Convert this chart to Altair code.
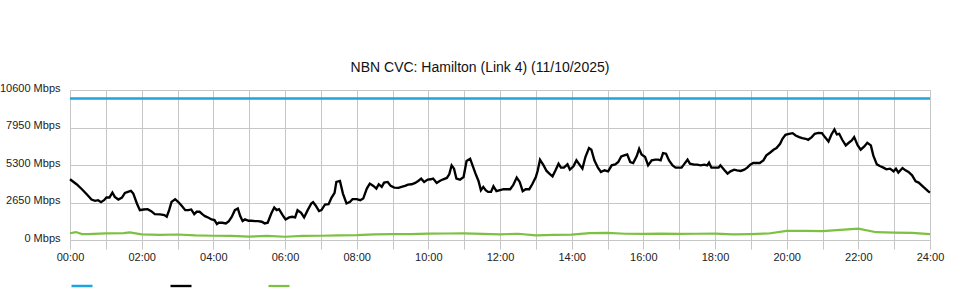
import altair as alt
import pandas as pd

# Capacity (blue) - constant
cap_minutes = [0, 1440]
cap_values = [10000, 10000]

# Download traffic (black), minutes after midnight and Mbps
dl_minutes = [0, 11, 20, 28, 36, 42, 47, 52, 57, 61, 66, 71, 75, 81, 87, 92, 98, 102, 106, 112,
              117, 123, 130, 136, 142, 151, 158, 162, 166, 170, 176, 181, 187, 193, 198, 203, 208, 212, 217, 222,
              226, 232, 237, 242, 246, 249, 255, 261, 266, 271, 276, 281, 285, 289, 293, 299, 304, 310, 315, 321,
              326, 331, 337, 342, 346, 350, 356, 361, 367, 372, 377, 381, 387, 392, 398, 404, 407, 411, 417, 421,
              427, 433, 438, 443, 446, 452, 457, 463, 469, 473, 480, 486, 491, 497, 502, 508, 513, 517, 522, 526,
              532, 537, 543, 550, 555, 561, 566, 572, 578, 583, 588, 593, 599, 604, 608, 614, 619, 625, 631, 635,
              639, 643, 647, 653, 659, 664, 670, 674, 679, 684, 688, 692, 696, 700, 705, 709, 714, 720,
              726, 731, 737, 742, 748, 753, 758, 763, 769, 774, 780, 783, 787, 793, 798, 804, 808, 813, 818, 822,
              827, 833, 837, 843, 848, 854, 858, 863, 869, 873, 878, 884, 889, 895, 901, 907, 913, 918, 923, 928,
              933, 938, 943, 949, 953, 957, 963, 968, 974, 980, 985, 989, 993, 998, 1003, 1009, 1014, 1020, 1024, 1029,
              1034, 1038, 1045, 1050, 1056, 1062, 1067, 1070, 1074, 1080, 1086, 1089, 1096, 1101, 1106, 1112, 1117, 1123,
              1129, 1134, 1139, 1144, 1150, 1155, 1161, 1166, 1172, 1178, 1183, 1189, 1193, 1198, 1204, 1210, 1215, 1221,
              1226, 1232, 1236, 1242, 1247, 1253, 1259, 1264, 1270, 1275, 1280, 1284, 1288, 1293, 1299, 1304, 1309, 1313,
              1319, 1324, 1330, 1335, 1341, 1345, 1351, 1356, 1362, 1367, 1373, 1379, 1383, 1387, 1394, 1399, 1404, 1410,
              1416, 1421, 1427, 1433, 1438, 1440]
dl_values = [4291, 3940, 3588, 3236, 2861, 2767, 2814, 2673, 2814, 3002, 3002, 3353, 3049, 2861, 3002, 3330, 3424, 3470, 3283, 2580,
             2110, 2157, 2181, 2040, 1829, 1806, 1759, 1642, 2110, 2697, 2884, 2697, 2415, 2110, 2110, 2157, 1829, 1993, 1993, 1806,
             1688, 1571, 1454, 1407, 1126, 1219, 1219, 1173, 1337, 1642, 2110, 2228, 1688, 1337, 1454, 1360, 1360, 1337, 1337, 1290,
             1173, 1219, 1876, 2298, 2110, 2181, 1759, 1454, 1595, 1642, 1595, 2110, 1923, 1595, 2110, 2580, 2673, 2462, 2040, 2110,
             2509, 2533, 3002, 3330, 4104, 4174, 3283, 2580, 2697, 2884, 2884, 2814, 2931, 3635, 3986, 3822, 3635, 3940, 3752, 4057,
             4104, 3822, 3705, 3682, 3752, 3822, 3916, 3940, 4033, 4174, 4338, 4104, 4268, 4291, 4338, 4033, 4174, 4291, 4385, 4643,
             5276, 5042, 4338, 4268, 4455, 5581, 5745, 5276, 4690, 4174, 3518, 3752, 3518, 3400, 3400, 3799, 3447, 3520,
             3588, 3588, 3588, 3869, 4409, 4104, 3447, 3588, 3588, 3940, 4455, 4878, 5675, 5276, 4878, 4643, 4502, 4925, 5394, 5112,
             5112, 5347, 4972, 5206, 5628, 5276, 5042, 5863, 6496, 6379, 5628, 5112, 4808, 4925, 4854, 5276, 5347, 5511, 5909, 5980,
             6050, 5511, 5440, 5933, 6449, 6050, 5863, 5276, 5628, 5675, 5675, 5628, 6144, 6097, 5628, 5276, 5112, 5112, 5112, 5394,
             5675, 5394, 5323, 5323, 5276, 5323, 5276, 5464, 5112, 5112, 5112, 5276, 4925, 4690, 4854, 4972, 4925, 4878,
             4972, 5112, 5323, 5440, 5440, 5440, 5628, 5980, 6167, 6379, 6496, 6801, 7153, 7434, 7504, 7551, 7387, 7270,
             7199, 7153, 7082, 7270, 7504, 7574, 7551, 7270, 6965, 7457, 7809, 7457, 7504, 7082, 6683, 6871, 7035, 7270,
             6683, 6379, 6613, 6871, 6683, 5980, 5347, 5229, 5112, 4995, 5042, 4854, 5042, 4761, 5089, 4925, 4808, 4573,
             4151, 4057, 3822, 3588, 3400, 3353]

# Upload traffic (green)
ul_minutes = [0, 10, 20, 30, 60, 90, 100, 120, 150, 180, 210, 240, 270, 300, 330, 360, 390, 420, 450, 480,
              510, 540, 570, 600, 630, 660, 690, 720, 750, 780, 810, 840, 870, 900, 930, 960, 990, 1020, 1050, 1080,
              1110, 1140, 1170, 1200, 1230, 1260, 1290, 1320, 1350, 1380, 1410, 1440]
ul_values = [480, 560, 420, 410, 470, 480, 540, 400, 360, 390, 320, 300, 290, 240, 290, 230, 290, 300, 330, 350,
             400, 420, 410, 450, 460, 470, 430, 400, 440, 330, 360, 380, 490, 500, 440, 430, 450, 430, 440, 450,
             400, 420, 460, 640, 640, 630, 720, 800, 550, 520, 500, 410]

series_names = ["Capacity", "Download", "Upload"]
series_colors = ["#1ea4df", "#000000", "#7cc142"]
series_widths = [2.5, 2.2, 3.0]
y_ticks = [0, 2650, 5300, 7950, 10600]
hour_ticks = [h * 60 for h in range(25)]

df = pd.concat([
    pd.DataFrame({"t": cap_minutes, "v": cap_values, "s": series_names[0]}),
    pd.DataFrame({"t": dl_minutes, "v": dl_values, "s": series_names[1]}),
    pd.DataFrame({"t": ul_minutes, "v": ul_values, "s": series_names[2]}),
])
order_map = {n: i for i, n in enumerate(series_names)}
df["o"] = df["s"].map(order_map)

FONT = "Liberation Sans"

chart = alt.Chart(df).mark_line(interpolate="linear").encode(
    x=alt.X("t:Q", scale=alt.Scale(domain=[0, 1440], nice=False, zero=False),
            axis=alt.Axis(values=hour_ticks, title=None, domain=False,
                          labelExpr="datum.value % 120 == 0 ? (datum.value/60 < 10 ? '0' : '') + (datum.value/60) + ':00' : ''",
                          tickSize=9, tickColor="#c6c6c6", tickWidth=1,
                          gridColor="#c6c6c6", gridWidth=1, labelPadding=2,
                          labelFont=FONT, labelFontSize=11, labelColor="#222222", labelFlush=False)),
    y=alt.Y("v:Q", scale=alt.Scale(domain=[0, 10600], nice=False),
            axis=alt.Axis(values=y_ticks, title=None, domain=False, ticks=False,
                          labelExpr="datum.value + ' Mbps'", labelPadding=10, labelOffset=-2,
                          gridColor="#c6c6c6", gridWidth=1,
                          labelFont=FONT, labelFontSize=11, labelColor="#222222")),
    color=alt.Color("s:N", scale=alt.Scale(domain=series_names, range=series_colors),
                    legend=alt.Legend(title=None, orient="none", legendX=0, legendY=184,
                                      direction="horizontal", symbolType="stroke",
                                      symbolSize=441, symbolStrokeWidth=2.5,
                                      labelExpr="''", labelOffset=0, columnPadding=67)),
    strokeWidth=alt.StrokeWidth("s:N", scale=alt.Scale(domain=series_names, range=series_widths),
                                legend=None),
    order="o:Q",
    detail="s:N",
).properties(
    width=860,
    height=150,
    title=alt.TitleParams("NBN CVC: Hamilton (Link 4) (11/10/2025)", font=FONT, fontSize=14,
                          fontWeight="normal", color="#111111", anchor="middle", dx=-20, offset=7),
    autosize=alt.AutoSizeParams(type="none"),
    padding={"left": 70, "top": 90, "right": 30, "bottom": 60},
).configure_view(stroke=None).configure(background="white")

chart.save("out.html", embed_options={"renderer": "svg", "actions": False})
